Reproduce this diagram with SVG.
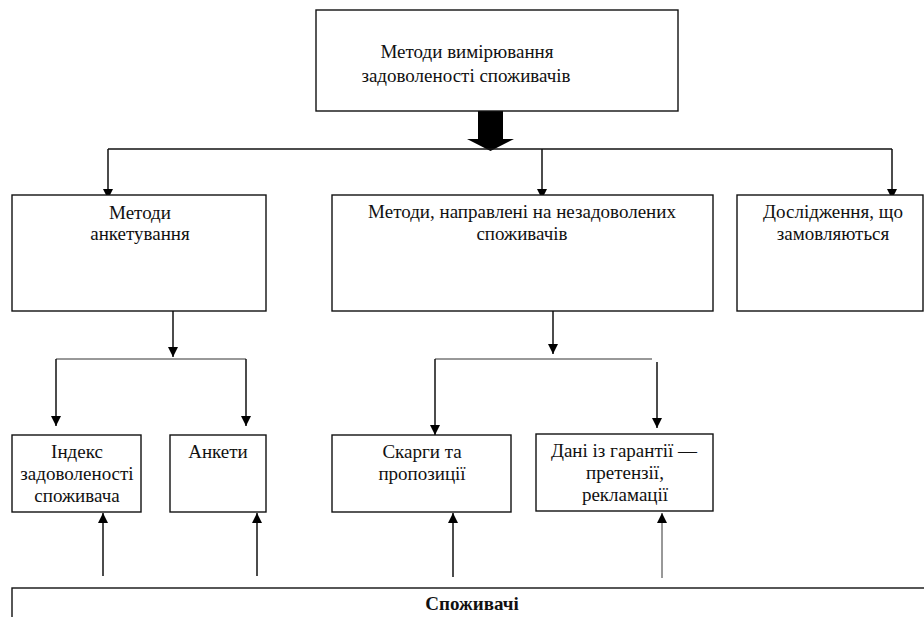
<svg xmlns="http://www.w3.org/2000/svg" width="924" height="617" viewBox="0 0 924 617">
<defs>
<style>
.box{fill:#fff;stroke:#111;stroke-width:1.4}
.t{font-size:19px;fill:#111;text-anchor:middle}
.b{font-weight:bold}
.ln{fill:none;stroke:#111;stroke-width:1.5}
.thin{fill:none;stroke:#333;stroke-width:1}
</style>
<marker id="ah" viewBox="0 0 10 10" refX="10" refY="5" markerWidth="10" markerHeight="10" markerUnits="userSpaceOnUse" orient="auto">
<path d="M0,0 L10,5 L0,10 z" fill="#000"/>
</marker>
</defs>
<rect width="924" height="617" fill="#fff"/>

<g id="connectors">
<polygon points="478,108 503,108 503,139 514,139 490.5,151 467,139 478,139" fill="#000"/>
<path class="ln" d="M108,149 H892"/>
<path class="ln" d="M108,149 V199" marker-end="url(#ah)"/>
<path class="ln" d="M542,149 V199" marker-end="url(#ah)"/>
<path class="ln" d="M892,149 V199" marker-end="url(#ah)"/>
<path class="ln" d="M173,303 V357" marker-end="url(#ah)"/>
<path class="thin" d="M56,359 H246"/>
<path class="ln" d="M56,359 V426" marker-end="url(#ah)"/>
<path class="ln" d="M246,359 V426" marker-end="url(#ah)"/>
<path class="ln" d="M553,303 V354" marker-end="url(#ah)"/>
<path class="thin" d="M435,359 H652"/>
<path class="ln" d="M435,359 V435" marker-end="url(#ah)"/>
<path class="ln" d="M657,362 V428" marker-end="url(#ah)"/>
<path class="ln" d="M103,576 V513" marker-end="url(#ah)"/>
<path class="ln" d="M257,576 V513" marker-end="url(#ah)"/>
<path class="ln" d="M453,577 V513" marker-end="url(#ah)"/>
<path class="thin" d="M662,578 V513" marker-end="url(#ah)"/>
</g>

<g font-family="'Liberation Serif', 'Times New Roman', serif">
<g id="top">
<rect class="box" x="316" y="10" width="362" height="101"/>
<text class="t" x="467" y="58">Методи вимірювання</text>
<text class="t" x="466" y="82">задоволеності споживачів</text>
</g>

<g id="survey">
<rect class="box" x="12" y="195" width="254" height="116"/>
<text class="t" x="140" y="219">Методи</text>
<text class="t" x="140" y="240">анкетування</text>
</g>

<g id="unsatisfied">
<rect class="box" x="332" y="195" width="381" height="116"/>
<text class="t" x="522" y="218">Методи, направлені на незадоволених</text>
<text class="t" x="522" y="240">споживачів</text>
</g>

<g id="ordered">
<rect class="box" x="737" y="195" width="186" height="116"/>
<text class="t" x="833" y="218">Дослідження, що</text>
<text class="t" x="833" y="240">замовляються</text>
</g>

<g id="index">
<rect class="box" x="12" y="435" width="129" height="77"/>
<text class="t" x="77" y="458">Індекс</text>
<text class="t" x="77" y="480">задоволеності</text>
<text class="t" x="77" y="502">споживача</text>
</g>

<g id="questionnaires">
<rect class="box" x="170" y="435" width="96" height="77"/>
<text class="t" x="218" y="458">Анкети</text>
</g>

<g id="complaints">
<rect class="box" x="332" y="435" width="179" height="77"/>
<text class="t" x="422" y="458">Скарги та</text>
<text class="t" x="422" y="480">пропозиції</text>
</g>

<g id="warranty">
<rect class="box" x="536" y="434" width="177" height="77"/>
<text class="t" x="624" y="457">Дані із гарантії —</text>
<text class="t" x="625" y="479">претензії,</text>
<text class="t" x="625" y="501">рекламації</text>
</g>

<g id="consumers">
<rect class="box" x="12" y="588" width="920" height="60"/>
<text class="t b" x="472" y="610">Споживачі</text>
</g>
</g>
</svg>
